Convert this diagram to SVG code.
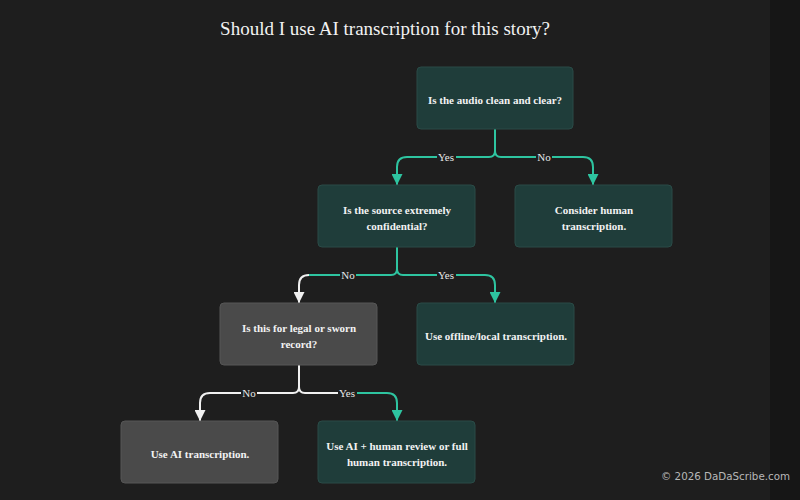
<svg xmlns="http://www.w3.org/2000/svg" width="800" height="500" viewBox="0 0 800 500">
<defs>
<style>
.t{fill:#1f3d3a;stroke:#2a4b47;stroke-width:1}
.g{fill:#4a4a4a;stroke:#565656;stroke-width:1}
.nt{font-family:"Liberation Serif",serif;font-weight:bold;font-size:11px;fill:#f2f2f2;text-anchor:middle}
.ct{fill:none;stroke:#2ec4a0;stroke-width:2}
.cw{fill:none;stroke:#f0f0f0;stroke-width:2}
.lb{font-family:"Liberation Serif",serif;font-size:11px;fill:#e8e8e8;text-anchor:middle}
.lbg{fill:#1e1e1e}
</style>
<marker id="at" viewBox="0 0 10 10" refX="10" refY="5" markerWidth="11" markerHeight="11" markerUnits="userSpaceOnUse" orient="auto"><path d="M0,0L10,5L0,10z" fill="#2ec4a0"/></marker>
<marker id="aw" viewBox="0 0 10 10" refX="10" refY="5" markerWidth="11" markerHeight="11" markerUnits="userSpaceOnUse" orient="auto"><path d="M0,0L10,5L0,10z" fill="#f0f0f0"/></marker>
</defs>
<rect width="800" height="500" fill="#1e1e1e"/>
<rect x="770" width="30" height="500" fill="#161616"/>
<text x="385" y="35" font-family="Liberation Serif,serif" font-size="19" fill="#f2f2f2" text-anchor="middle">Should I use AI transcription for this story?</text>
<g id="connectors">
<path class="ct" d="M495,129V151Q495,157 489,157H407Q397,157 397,167V185" marker-end="url(#at)"/>
<path class="ct" d="M495,129V151Q495,157 501,157H583Q593,157 593,167V185" marker-end="url(#at)"/>
<path class="ct" d="M397,247V269Q397,275 391,275H309"/>
<path class="cw" d="M309,275Q299,275 299,285V303" marker-end="url(#aw)"/>
<path class="ct" d="M397,247V269Q397,275 403,275H485Q495,275 495,285V303" marker-end="url(#at)"/>
<path class="cw" d="M299,365V387Q299,393 293,393H210Q200,393 200,403V421" marker-end="url(#aw)"/>
<path class="cw" d="M299,365V387Q299,393 305,393H348"/>
<path class="ct" d="M348,393H387Q397,393 397,403V421" marker-end="url(#at)"/>
<rect class="lbg" x="437" y="151" width="19" height="12"/><text class="lb" x="446" y="161">Yes</text>
<rect class="lbg" x="536" y="151" width="16" height="12"/><text class="lb" x="544" y="161">No</text>
<rect class="lbg" x="340" y="269" width="16" height="12"/><text class="lb" x="348" y="279">No</text>
<rect class="lbg" x="437" y="269" width="19" height="12"/><text class="lb" x="446" y="279">Yes</text>
<rect class="lbg" x="241" y="387" width="16" height="12"/><text class="lb" x="249" y="397">No</text>
<rect class="lbg" x="338" y="387" width="19" height="12"/><text class="lb" x="347" y="397">Yes</text>
</g>
<g id="n1"><rect class="t" x="417" y="67" width="156" height="62" rx="4"/><text class="nt" x="495" y="104">Is the audio clean and clear?</text></g>
<g id="n2"><rect class="t" x="318" y="185" width="157" height="62" rx="4"/><text class="nt" x="397" y="214">Is the source extremely</text><text class="nt" x="397" y="230">confidential?</text></g>
<g id="n3"><rect class="t" x="515" y="185" width="157" height="62" rx="4"/><text class="nt" x="594" y="214">Consider human</text><text class="nt" x="594" y="230">transcription.</text></g>
<g id="n4"><rect class="g" x="220" y="303" width="157" height="62" rx="4"/><text class="nt" x="299" y="332">Is this for legal or sworn</text><text class="nt" x="299" y="348">record?</text></g>
<g id="n5"><rect class="t" x="417" y="303" width="157" height="62" rx="4"/><text class="nt" x="496" y="340">Use offline/local transcription.</text></g>
<g id="n6"><rect class="g" x="121" y="421" width="157" height="62" rx="4"/><text class="nt" x="200" y="458">Use AI transcription.</text></g>
<g id="n7"><rect class="t" x="318" y="421" width="157" height="62" rx="4"/><text class="nt" x="397" y="450">Use AI + human review or full</text><text class="nt" x="397" y="466">human transcription.</text></g>
<text x="790" y="480" font-family="DejaVu Sans,sans-serif" font-size="10.3" fill="#b8b8b8" text-anchor="end">© 2026 DaDaScribe.com</text>
</svg>
